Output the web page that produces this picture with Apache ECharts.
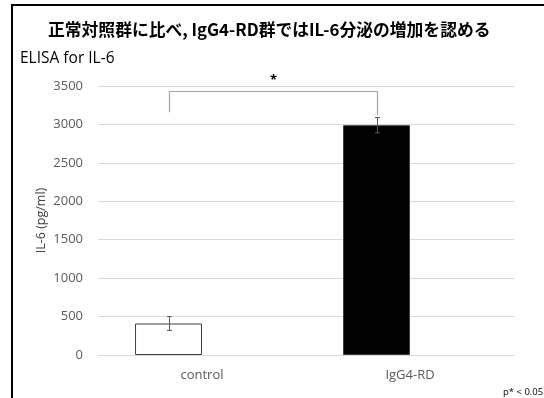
<!DOCTYPE html>
<html>
<head>
<meta charset="utf-8">
<script src="https://cdn.jsdelivr.net/npm/echarts@6/dist/echarts.min.js"></script>
<style>
  html, body { margin: 0; padding: 0; background: #fff; }
  #chart { width: 544px; height: 398px; }
</style>
</head>
<body>
<div id="chart"></div>
<script>
// IL-6 measured by ELISA, mean ± error per group
const categories = ['control', 'IgG4-RD'];
const meanValues = [410, 2990];
const errorValues = [90, 100];
const yTicks = { min: 0, max: 3500, interval: 500 };
// significance bracket levels (pg/ml)
const bracketTop = 3430;
const bracketFeet = [3160, 3120];
const starLevel = 3570;

const barFill = ['#ffffff', '#000000'];
const BAR_GAP_RATIO = 0.356;

const chart = echarts.init(document.getElementById('chart'), null, { renderer: 'canvas' });

// offset from category center to the center of the first bar in the cluster
function barOffset(api) {
  const band = api.size([1, 0])[0];
  const w = band * (1 - BAR_GAP_RATIO) / 2;
  return -w / 2;
}

const option = {
  animation: false,
  backgroundColor: '#ffffff',
  textStyle: { fontFamily: '"Open Sans", "Noto Sans CJK JP", sans-serif' },
  title: [
    {
      text: '正常対照群に比べ, IgG4-RD群ではIL-6分泌の増加を認める',
      left: 43, top: 16,
      textStyle: { fontFamily: '"Noto Sans CJK JP", sans-serif', fontWeight: 'bold', fontSize: 16.8, color: '#000' }
    },
    {
      text: 'ELISA for IL-6',
      left: 15, top: 46,
      textStyle: { fontFamily: '"Open Sans", sans-serif', fontWeight: 'normal', fontSize: 15.5, color: '#000' }
    },
    {
      text: 'p* < 0.05',
      left: 498, top: 382,
      textStyle: { fontFamily: '"Open Sans", sans-serif', fontWeight: 'normal', fontSize: 9.5, color: '#000' }
    }
  ],
  grid: { left: 98, right: 30, top: 86, bottom: 43 },
  xAxis: {
    type: 'category',
    data: categories,
    axisLine: { show: true, lineStyle: { color: '#d9d9d9', width: 1 } },
    axisTick: { show: false },
    axisLabel: { color: '#595959', fontSize: 13, margin: 14, fontFamily: '"Open Sans", sans-serif' }
  },
  yAxis: {
    type: 'value',
    min: yTicks.min, max: yTicks.max, interval: yTicks.interval,
    name: 'IL-6 (pg/ml)',
    nameLocation: 'middle',
    nameGap: 50,
    nameMoveOverlap: false,
    nameRotate: 90,
    nameTextStyle: { color: '#404040', fontSize: 12.5, fontFamily: '"Open Sans", sans-serif' },
    axisLine: { show: false },
    axisTick: { show: false },
    splitLine: { lineStyle: { color: '#d9d9d9', width: 1 } },
    axisLabel: {
      color: '#595959', fontSize: 13, margin: 15, fontFamily: '"Open Sans", sans-serif',
      formatter: (v) => String(v)
    }
  },
  series: [
    {
      type: 'bar',
      data: meanValues.map((v, i) => ({
        value: v,
        itemStyle: { color: barFill[i], borderColor: '#404040', borderWidth: 1 }
      })),
      barGap: '0%',
      barCategoryGap: (BAR_GAP_RATIO * 100) + '%',
      z: 2
    },
    {
      // empty companion series keeps each bar on the left half of its category
      type: 'bar',
      data: categories.map(() => null)
    },
    {
      type: 'custom',
      name: 'error',
      data: meanValues.map((v, i) => [i, v, errorValues[i]]),
      z: 5,
      renderItem: function (params, api) {
        const i = api.value(0);
        const m = api.value(1);
        const e = api.value(2);
        const off = barOffset(api);
        const top = api.coord([i, m + e]);
        const bot = api.coord([i, m - e]);
        const x = Math.round(top[0] + off) + 0.5;
        const style = { stroke: '#595959', lineWidth: 1 };
        return {
          type: 'group',
          children: [
            { type: 'line', shape: { x1: x, y1: top[1], x2: x, y2: bot[1] }, style },
            { type: 'line', shape: { x1: x - 2.5, y1: top[1], x2: x + 2.5, y2: top[1] }, style },
            { type: 'line', shape: { x1: x - 2.5, y1: bot[1], x2: x + 2.5, y2: bot[1] }, style }
          ]
        };
      }
    },
    {
      type: 'custom',
      name: 'bracket',
      data: [[0, 1, bracketTop, bracketFeet[0], bracketFeet[1], starLevel]],
      z: 4,
      renderItem: function (params, api) {
        const off = barOffset(api);
        const a = api.coord([api.value(0), api.value(2)]);
        const b = api.coord([api.value(1), api.value(2)]);
        const fa = api.coord([api.value(0), api.value(3)]);
        const fb = api.coord([api.value(1), api.value(4)]);
        const s = api.coord([0, api.value(5)]);
        const xa = Math.round(a[0] + off) + 0.5;
        const xb = Math.round(b[0] + off) + 0.5;
        const y = Math.round(a[1]) + 0.5;
        return {
          type: 'group',
          children: [
            {
              type: 'polyline',
              shape: { points: [[xa, fa[1]], [xa, y], [xb, y], [xb, fb[1]]] },
              style: { stroke: '#a6a6a6', lineWidth: 1.2, fill: null }
            },
            {
              type: 'text',
              style: {
                text: '*', x: (xa + xb) / 2, y: s[1],
                align: 'center', verticalAlign: 'middle',
                font: 'bold 13px "Open Sans", sans-serif', fill: '#000'
              }
            }
          ]
        };
      }
    }
  ],
  graphic: [
    { type: 'line', shape: { x1: 12, y1: 5, x2: 544, y2: 5 }, style: { stroke: '#000', lineWidth: 2 }, z: 10 },
    { type: 'line', shape: { x1: 12, y1: 4, x2: 12, y2: 398 }, style: { stroke: '#000', lineWidth: 2 }, z: 10 }
  ]
};

chart.setOption(option);
</script>
</body>
</html>
